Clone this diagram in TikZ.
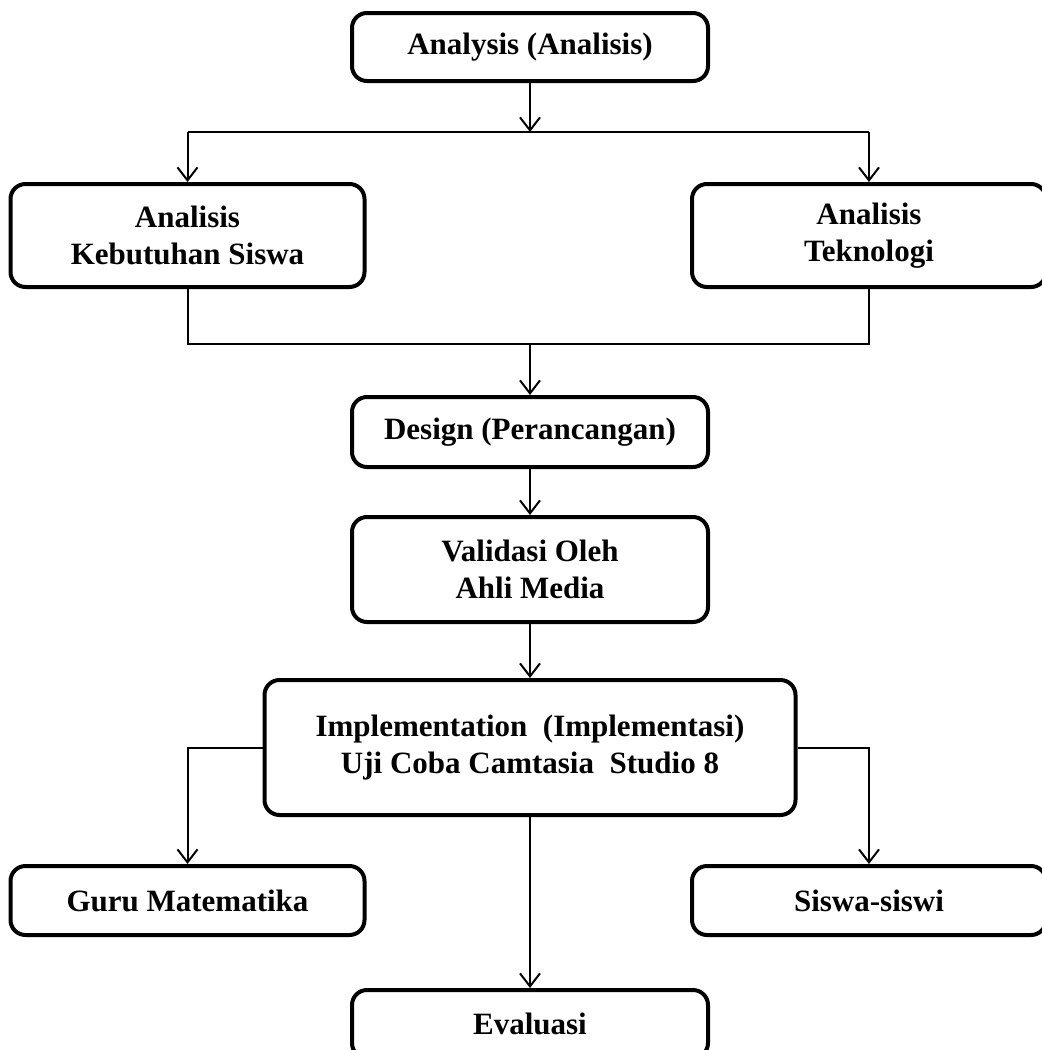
\documentclass[tikz,border=0pt]{standalone}
\usepackage{fontspec}
\setmainfont{Liberation Serif}
\usepackage{tikz}
\usetikzlibrary{arrows.meta, positioning, calc}
\tikzset{
    x=0.5pt, y=-0.5pt, % one unit is one pixel of the layout
    >={Straight Barb[length=6.5pt, width=10pt]}, % open arrow heads
    stage/.style={draw, line width=2pt, rounded corners=7.5pt, align=center,
        font=\fontsize{15.5}{18.5}\selectfont\bfseries, inner sep=2pt}, % every box of the flow
    wide/.style={stage, minimum width=178pt}, % boxes in the middle column
    side/.style={stage, minimum width=177pt}, % boxes on the two sides
}
\tikzstyle{arrow} = [line width=1pt, ->]
\tikzstyle{line} = [line width=1pt]

\begin{document}
\begin{tikzpicture}
    \useasboundingbox (0,0) rectangle (1041,1050);

    % boxes
    \node[wide, minimum height=34pt] (ana) at (530,47) {Analysis (Analisis)};
    \node[side, minimum height=51.5pt] (kbs) at (187.5,235.5) {Analisis\\Kebutuhan Siswa};
    \node[side, minimum height=51.5pt] (tek) at (869,235.5) {Analisis\\Teknologi};
    \node[wide, minimum height=35pt] (des) at (530,432) {Design (Perancangan)};
    \node[wide, minimum height=52.5pt] (val) at (530,569.5) {Validasi Oleh\\Ahli Media};
    \node[stage, minimum width=265.5pt, minimum height=67.5pt] (imp) at (530,747.5)
        {Implementation \ (Implementasi)\\Uji Coba Camtasia \ Studio 8};
    \node[side, minimum height=34.5pt] (guru) at (187.5,900.5) {Guru Matematika};
    \node[side, minimum height=34.5pt] (sis) at (869,900.5) {Siswa-siswi};
    \node[wide, minimum height=34pt] (eva) at (530,1024) {Evaluasi};

    % split after the analysis
    \coordinate (splitA) at (530,132);
    \coordinate (leftA) at (187.5,132);
    \coordinate (rightA) at (869,132);
    \draw[arrow] (ana) -- (splitA);
    \draw[line] (leftA) -- (rightA);
    \draw[arrow] (leftA) -- (kbs);
    \draw[arrow] (rightA) -- (tek);

    % join into the design
    \coordinate (joinB) at (530,344);
    \draw[line] (kbs.south) |- (joinB) -| (tek.south);
    \draw[arrow] (joinB) -- (des);

    \draw[arrow] (des) -- (val);
    \draw[arrow] (val) -- (imp);

    % after the implementation
    \draw[arrow] (imp.west) -| (guru);
    \draw[arrow] (imp.east) -| (sis);
    \draw[arrow] (imp) -- (eva);
\end{tikzpicture}
\end{document}
